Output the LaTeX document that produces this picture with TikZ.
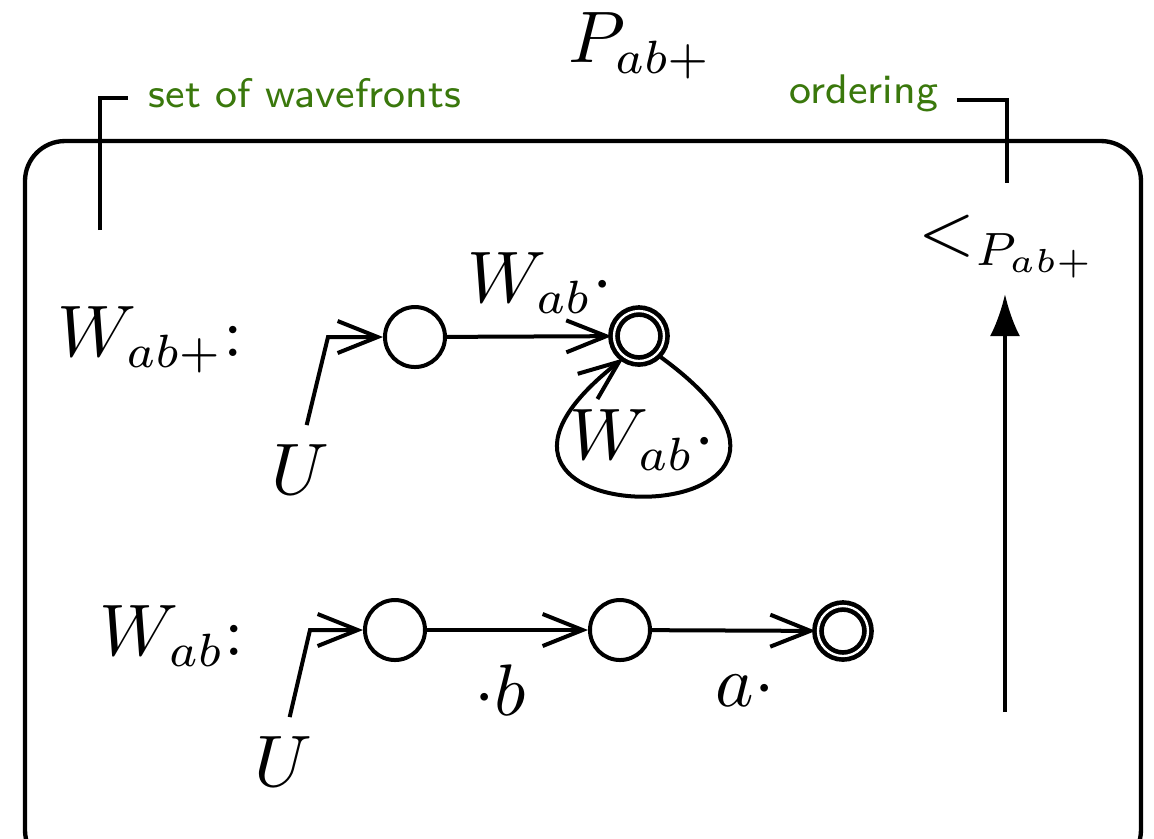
\documentclass[tikz,border=0pt]{standalone}
\usetikzlibrary{arrows.meta}
\definecolor{labgreen}{RGB}{58,120,12}
\begin{document}
\begin{tikzpicture}[x=0.15pt,y=-0.15pt, line width=0.6pt,
  font=\fontsize{10.5}{12.5}\selectfont,
  lab/.style={inner sep=0pt, outer sep=0pt},
  gtext/.style={inner sep=0pt, text=labgreen, font=\fontsize{6.2}{8}\selectfont\sffamily},
  state/.style={draw, circle, minimum size=9pt, inner sep=0pt, line width=0.6pt},
  accept/.style={draw, circle, minimum size=7.5pt, inner sep=0pt, double, double distance=0.35pt, line width=0.7pt},
  tr/.style={-{Straight Barb[length=6pt,width=4.8pt,line width=0.6pt]}},
  ordarrow/.style={-{Latex[length=6.3pt,width=4.5pt]}}
]
\clip (0,0) rectangle (1154,838);
% outer box
\draw[rounded corners=6pt, line width=0.65pt] (25,141) rectangle (1141,870);
% title and green labels
\node[lab] (title) at (640,46) {$P_{ab+}$};
\node[gtext] (sow) at (305,93) {set of wavefronts};
\node[gtext] (ord) at (864,93) {ordering};
\coordinate (lb1) at (100,230);
\coordinate (lb2) at (128,98);
\draw (lb1) |- (lb2);
\coordinate (rb1) at (957,100);
\coordinate (rb2) at (1007,183);
\draw (rb1) -| (rb2);
% ordering
\node[lab] (lt) at (1008,247) {$<_{P_{ab+}}$};
\coordinate (ob) at (1005,712);
\coordinate (ot) at (1005,294);
\draw[ordarrow] (ob) -- (ot);
% first automaton
\node[lab] (L1) at (150,340) {$W_{ab+}$:};
\node[state] (q1) at (415,337) {};
\node[accept] (q2) at (639,336) {};
\node[lab] (U1) at (300,470) {$U$};
\coordinate (c1) at (328,337);
\draw[tr] ([xshift=1pt,yshift=3pt]U1.north) -- (c1) -- (q1.west);
\draw[tr] (q1) -- (q2);
\node[lab] (e1) at (540,283) {$W_{ab}{\cdot}$};
\draw[tr] (q2.-45) .. controls (915,540) and (385,545) .. (q2.-125);
\node[lab] (e2) at (642,440) {$W_{ab}{\cdot}$};
% second automaton
\node[lab] (L2) at (172,636) {$W_{ab}$:};
\node[state] (q3) at (395,630) {};
\node[state] (q4) at (620,630) {};
\node[accept] (q5) at (843,631) {};
\node[lab] (U2) at (283,762) {$U$};
\coordinate (c2) at (310,630);
\draw[tr] ([xshift=1pt,yshift=3pt]U2.north) -- (c2) -- (q3.west);
\draw[tr] (q3) -- (q4);
\draw[tr] (q4) -- (q5);
\node[lab] (e3) at (500,690) {${\cdot}b$};
\node[lab] (e4) at (745,690) {$a{\cdot}$};
\end{tikzpicture}
\end{document}
